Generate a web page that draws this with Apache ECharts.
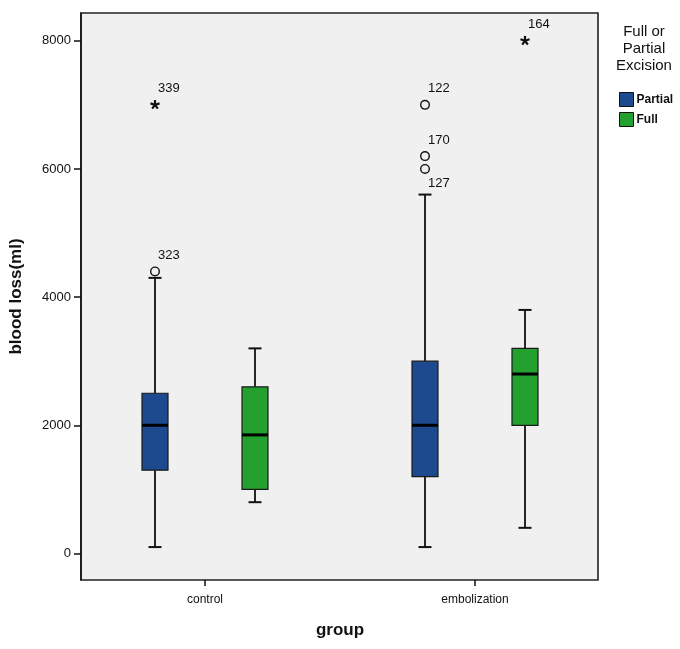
<!DOCTYPE html>
<html><head><meta charset="utf-8">
<script src="https://cdn.jsdelivr.net/npm/echarts@6/dist/echarts.min.js"></script>
<style>html,body{margin:0;padding:0;background:#fff}#c{width:680px;height:649px}</style>
</head><body><div id="c"></div>
<script>
// ---- data ----
var groups = ['control', 'embolization'];
var seriesNames = ['Partial', 'Full'];
// [min, Q1, median, Q3, max] for each group
var partialBox = [[100, 1300, 2000, 2500, 4300], [100, 1200, 2000, 3000, 5600]];
var fullBox = [[800, 1000, 1850, 2600, 3200], [400, 2000, 2800, 3200, 3800]];
// outliers (circles): [groupIndex, value]
var partialOutliers = [[0, 4400], [1, 7000], [1, 6200], [1, 6000]];
var partialOutlierLabels = ['323', '122', '170', '127'];
// extremes (stars): [groupIndex, value]
var partialExtremes = [[0, 7000]];
var partialExtremeLabels = ['339'];
var fullExtremes = [[1, 8000]];
var fullExtremeLabels = ['164'];
var yTicks = [0, 2000, 4000, 6000, 8000];
var yMin = -414, yMax = 8433;

// ---- style ----
var FONT = '"Liberation Sans", Arial, Helvetica, sans-serif';
var colors = {Partial: '#1d4a8e', Full: '#24a02e'};
var offsets = {Partial: -50 / 270, Full: 50 / 270};
var labelsBelow = {'127': true};

function boxData(arr) { return arr.map(function (d, i) { return [i].concat(d); }); }

function boxRender(name) {
  return function (params, api) {
    var cat = api.value(0);
    var band = api.size([1, 0])[0];
    var cx = api.coord([cat, 0])[0] + band * offsets[name];
    var p = [1, 2, 3, 4, 5].map(function (k) { return api.coord([cat, api.value(k)])[1]; });
    var hw = 13, cw = 6.5;
    var ls = {stroke: '#111', lineWidth: 1.8};
    return {type: 'group', children: [
      {type: 'line', shape: {x1: cx, y1: p[4], x2: cx, y2: p[3]}, style: ls},
      {type: 'line', shape: {x1: cx, y1: p[1], x2: cx, y2: p[0]}, style: ls},
      {type: 'line', shape: {x1: cx - cw, y1: p[4], x2: cx + cw, y2: p[4]}, style: {stroke: '#111', lineWidth: 2}},
      {type: 'line', shape: {x1: cx - cw, y1: p[0], x2: cx + cw, y2: p[0]}, style: {stroke: '#111', lineWidth: 2}},
      {type: 'rect', shape: {x: cx - hw, y: p[3], width: 2 * hw, height: p[1] - p[3]}, style: {fill: colors[name], stroke: '#1a1a1a', lineWidth: 1.2}},
      {type: 'line', shape: {x1: cx - hw, y1: p[2], x2: cx + hw, y2: p[2]}, style: {stroke: '#000', lineWidth: 3}}
    ]};
  };
}

function pointRender(name, labels, kind) {
  return function (params, api) {
    var cat = api.value(0);
    var band = api.size([1, 0])[0];
    var pt = api.coord([cat, api.value(1)]);
    var x = pt[0] + band * offsets[name], y = pt[1];
    var lab = labels[params.dataIndex];
    var children = [];
    if (kind === 'circle') {
      children.push({type: 'circle', shape: {cx: x, cy: y, r: 4.3}, style: {fill: 'none', stroke: '#111', lineWidth: 1.4}});
    } else {
      for (var k = 0; k < 5; k++) {
        var a = -Math.PI / 2 + k * 2 * Math.PI / 5;
        children.push({type: 'line', shape: {x1: x, y1: y, x2: x + 4.8 * Math.cos(a), y2: y + 4.8 * Math.sin(a)}, style: {stroke: '#111', lineWidth: 2.2}});
      }
    }
    var dy = labelsBelow[lab] ? 14 : -16;
    children.push({type: 'text', x: x + 3, y: y + dy, style: {text: lab, fill: '#111', font: '13px ' + FONT, textAlign: 'left', textVerticalAlign: 'middle'}});
    return {type: 'group', children: children};
  };
}

var chart = echarts.init(document.getElementById('c'), null, {renderer: 'canvas'});
chart.setOption({
  backgroundColor: '#ffffff',
  animation: false,
  textStyle: {fontFamily: FONT},
  grid: [
    {left: 79, top: 13, width: 519, height: 567, show: true, backgroundColor: '#f0f0f0', borderColor: '#222', borderWidth: 1.6},
    {left: 70, top: 13, width: 540, height: 567}
  ],
  xAxis: [
    {type: 'value', gridIndex: 0, show: false, min: 0, max: 1},
    {type: 'category', gridIndex: 1, data: groups, position: 'bottom',
      axisLine: {show: false, onZero: false},
      axisTick: {show: true, alignWithLabel: true, length: 6, lineStyle: {color: '#111', width: 1.5}},
      axisLabel: {margin: 14, fontSize: 12, color: '#111', fontFamily: FONT},
      name: 'group', nameLocation: 'middle', nameGap: 42,
      nameTextStyle: {fontSize: 17, fontWeight: 'bold', color: '#111', fontFamily: FONT}}
  ],
  yAxis: [
    {type: 'value', gridIndex: 0, min: yMin, max: yMax,
      axisLine: {show: true, lineStyle: {color: '#111', width: 1.5}},
      axisTick: {show: true, customValues: yTicks, length: 7, lineStyle: {color: '#111', width: 1.5}},
      axisLabel: {customValues: yTicks, margin: 10, fontSize: 13, color: '#111', fontFamily: FONT,
        formatter: function (v) { return String(v); }},
      splitLine: {show: false},
      name: 'blood loss(ml)', nameLocation: 'middle', nameGap: 56,
      nameTextStyle: {fontSize: 17, fontWeight: 'bold', color: '#111', fontFamily: FONT}},
    {type: 'value', gridIndex: 1, min: yMin, max: yMax, show: false}
  ],
  legend: {
    data: [{name: 'Partial', icon: 'rect'}, {name: 'Full', icon: 'rect'}],
    orient: 'vertical', left: 614, top: 87, itemWidth: 14, itemHeight: 14, itemGap: 5,
    selectedMode: false,
    itemStyle: {borderColor: '#111', borderWidth: 1},
    textStyle: {fontSize: 12, fontWeight: 'bold', color: '#111', fontFamily: FONT, padding: [0, 0, 0, -2]}
  },
  graphic: [
    {type: 'text', x: 644, y: 23, style: {text: 'Full or\nPartial\nExcision', font: '15px ' + FONT, fill: '#111', textAlign: 'center', textVerticalAlign: 'top', lineHeight: 17}}
  ],
  series: [
    {name: 'Partial', type: 'custom', xAxisIndex: 1, yAxisIndex: 1, itemStyle: {color: colors.Partial},
      data: boxData(partialBox), encode: {x: 0, y: [1, 2, 3, 4, 5]}, renderItem: boxRender('Partial')},
    {name: 'Full', type: 'custom', xAxisIndex: 1, yAxisIndex: 1, itemStyle: {color: colors.Full},
      data: boxData(fullBox), encode: {x: 0, y: [1, 2, 3, 4, 5]}, renderItem: boxRender('Full')},
    {name: 'Partial outliers', type: 'custom', xAxisIndex: 1, yAxisIndex: 1,
      data: partialOutliers, encode: {x: 0, y: 1}, renderItem: pointRender('Partial', partialOutlierLabels, 'circle')},
    {name: 'Partial extremes', type: 'custom', xAxisIndex: 1, yAxisIndex: 1,
      data: partialExtremes, encode: {x: 0, y: 1}, renderItem: pointRender('Partial', partialExtremeLabels, 'star')},
    {name: 'Full extremes', type: 'custom', xAxisIndex: 1, yAxisIndex: 1,
      data: fullExtremes, encode: {x: 0, y: 1}, renderItem: pointRender('Full', fullExtremeLabels, 'star')}
  ]
});
</script></body></html>
